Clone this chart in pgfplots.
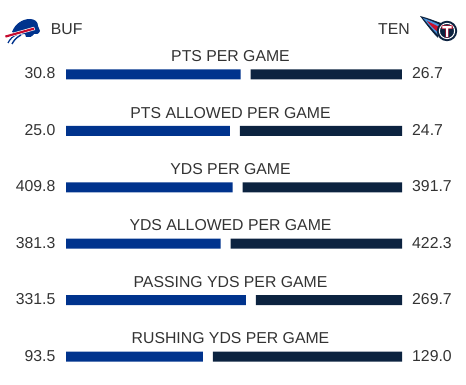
\documentclass[border=0pt]{standalone}
\usepackage{pgfplots}
\pgfplotsset{compat=1.18}
\usepackage{pgfplotstable}
\usepackage{fontspec}
\setmainfont{Liberation Sans}
\definecolor{bufblue}{HTML}{00338D}
\definecolor{tennavy}{HTML}{0C2340}
\definecolor{txt}{HTML}{333333}
\definecolor{bufred}{HTML}{C60C30}
\definecolor{tenlight}{HTML}{4B92DB}
\definecolor{tenred}{HTML}{C8102E}
\tikzset{lab/.style={font=\fontsize{15.8}{18}\selectfont,text=txt,inner sep=0pt}}

\pgfplotstableread{
row L R
0 30.8 26.7
1 25.0 24.7
2 409.8 391.7
3 381.3 422.3
4 331.5 269.7
5 93.5 129.0
}\stats

\begin{document}
\begin{tikzpicture}
\useasboundingbox (0,0) rectangle (466pt,385pt);
\begin{axis}[at={(0,0)},anchor=south west,
  width=466pt,height=385pt,scale only axis,hide axis,clip=false,
  xmin=-66,xmax=400,ymin=0,ymax=385,y dir=reverse,
  xbar stacked,bar width=10pt]
\addplot[fill=bufblue,draw=none] table[x expr={\thisrow{L}/(\thisrow{L}+\thisrow{R})*326},y expr={74.5+56.4*\thisrow{row}}]{\stats};
\addplot[fill=none,draw=none] table[x expr=10,y expr={74.5+56.4*\thisrow{row}}]{\stats};
\addplot[fill=tennavy,draw=none] table[x expr={\thisrow{R}/(\thisrow{L}+\thisrow{R})*326},y expr={74.5+56.4*\thisrow{row}}]{\stats};

\node[lab,anchor=base] at (axis cs:164.5,61.7) {PTS PER GAME};
\node[lab,anchor=base] at (axis cs:164.5,118.1) {PTS ALLOWED PER GAME};
\node[lab,anchor=base] at (axis cs:164.5,174.5) {YDS PER GAME};
\node[lab,anchor=base] at (axis cs:164.5,230.9) {YDS ALLOWED PER GAME};
\node[lab,anchor=base] at (axis cs:164.5,287.3) {PASSING YDS PER GAME};
\node[lab,anchor=base] at (axis cs:164.5,343.7) {RUSHING YDS PER GAME};

\node[lab,anchor=base east] at (axis cs:-10.5,79) {30.8};
\node[lab,anchor=base east] at (axis cs:-10.5,135.4) {25.0};
\node[lab,anchor=base east] at (axis cs:-10.5,191.8) {409.8};
\node[lab,anchor=base east] at (axis cs:-10.5,248.2) {381.3};
\node[lab,anchor=base east] at (axis cs:-10.5,304.6) {331.5};
\node[lab,anchor=base east] at (axis cs:-10.5,361) {93.5};

\node[lab,anchor=base west] at (axis cs:346,79) {26.7};
\node[lab,anchor=base west] at (axis cs:346,135.4) {24.7};
\node[lab,anchor=base west] at (axis cs:346,191.8) {391.7};
\node[lab,anchor=base west] at (axis cs:346,248.2) {422.3};
\node[lab,anchor=base west] at (axis cs:346,304.6) {269.7};
\node[lab,anchor=base west] at (axis cs:346,361) {129.0};

\node[lab,anchor=base west] at (axis cs:-15.3,35) {BUF};
\node[lab,anchor=base east] at (axis cs:344,35) {TEN};
\end{axis}
% logos, pixel coordinates (origin top-left)
\begin{scope}[shift={(0pt,385pt)},x=1pt,y=-1pt]
  % Bills
  \fill[bufblue] (12,32) .. controls (15,24) and (22,19) .. (30,19) .. controls (35,19) and (38,22) .. (38,26) -- (40,31) .. controls (39,34) and (36,35) .. (34,34) .. controls (32,37) and (29,38) .. (26,37) -- (25,34) .. controls (20,35) and (15,34) .. cycle;
  \draw[bufblue,line width=1.4pt] (21,35) .. controls (17,37) and (14,40) .. (12,44);
  \draw[bufblue,line width=1.2pt] (17,34.5) .. controls (13,36) and (10,39) .. (8,43);
  \fill[white] (4,35.2) -- (34,26.8) -- (35.2,30) -- (5.2,38.4) -- cycle;
  \fill[bufred] (5,35.6) -- (33.6,27.6) -- (34.4,29.6) -- (5.8,37.6) -- cycle;
  % Titans
  \fill[tennavy] (420,16) .. controls (428,18) and (435,21) .. (441,23) -- (438,38) .. controls (432,32) and (426,24) .. cycle;
  \fill[tenlight] (423,18) .. controls (429,20) and (434,22) .. (440,25) -- (438,35) .. controls (433,30) and (428,24) .. cycle;
  \fill[tenred] (427,21) .. controls (431,23) and (435,25) .. (439,27) -- (438,32) .. controls (434,29) and (430,25) .. cycle;
  \fill[tennavy] (447,31) circle (10.2);
  \draw[white,line width=1pt] (447,31) circle (7.6);
  \fill[tenred] (441.5,25.5) -- (452.5,25.5) -- (452.5,29) -- (448.7,29) -- (448.7,37.5) -- (445.3,37.5) -- (445.3,29) -- (441.5,29) -- cycle;
  \fill[white] (442.3,26.2) -- (451.7,26.2) -- (451.7,28.3) -- (448,28.3) -- (448,36.8) -- (446,36.8) -- (446,28.3) -- (442.3,28.3) -- cycle;
\end{scope}
\end{tikzpicture}
\end{document}
